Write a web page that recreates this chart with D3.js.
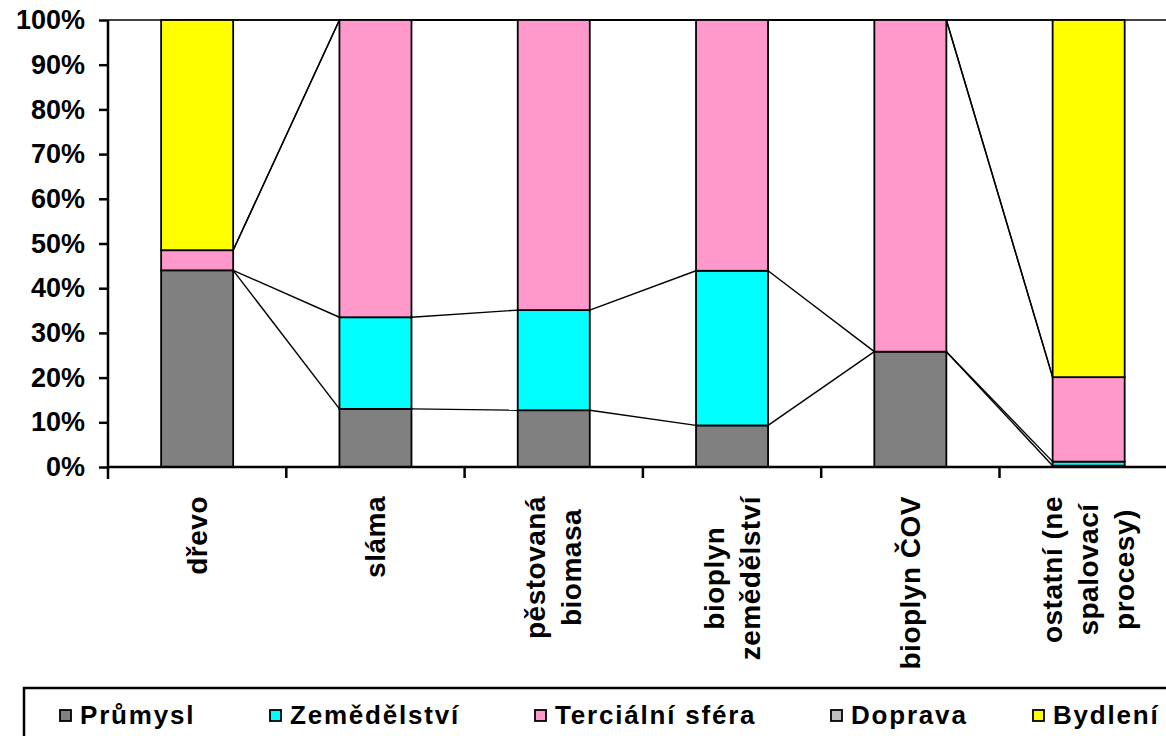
<!DOCTYPE html>
<html>
<head>
<meta charset="utf-8">
<script src="https://cdn.jsdelivr.net/npm/d3@7"></script>
<style>
  html, body { margin: 0; padding: 0; background: #fff; overflow: hidden; }
  svg { display: block; font-family: "Liberation Sans", Arial, sans-serif; }
</style>
</head>
<body>
<svg id="chart" width="1166" height="736"></svg>
<script>
// ---- data ----
const categories = ["dřevo", "sláma", "pěstovaná biomasa", "bioplyn zemědělství", "bioplyn ČOV", "ostatní (ne spalovací procesy)"];
const categoryLines = [["dřevo"], ["sláma"], ["pěstovaná", "biomasa"], ["bioplyn", "zemědělství"], ["bioplyn ČOV"], ["ostatní (ne", "spalovací", "procesy)"]];
const seriesNames = ["Průmysl", "Zemědělství", "Terciální sféra", "Doprava", "Bydlení"];
const prumysl     = [44.0, 13.0, 12.7, 9.3, 25.8, 0.3];
const zemedelstvi = [0.0, 20.5, 22.4, 34.6, 0.0, 0.9];
const tercialni   = [4.5, 66.5, 64.9, 56.1, 74.2, 18.9];
const doprava     = [0.0, 0.0, 0.0, 0.0, 0.0, 0.0];
const bydleni     = [51.5, 0.0, 0.0, 0.0, 0.0, 79.9];
const yTicks = [0, 10, 20, 30, 40, 50, 60, 70, 80, 90, 100];
const seriesColors = ["#808080", "#00FFFF", "#FF99CC", "#C0C0C0", "#FFFF00"];

(function () {
// ---- layout ----
const svg = d3.select("#chart");
const plotLeft = 108, plotTop = 20, plotBottom = 467, step = 178.3;
const rows = categories.map((c, i) => ({
  cat: c,
  "Průmysl": prumysl[i], "Zemědělství": zemedelstvi[i], "Terciální sféra": tercialni[i],
  "Doprava": doprava[i], "Bydlení": bydleni[i]
}));
const stacked = d3.stack().keys(seriesNames)(rows);

const x = d3.scaleBand().domain(categories)
  .range([plotLeft, plotLeft + step * categories.length])
  .paddingInner(0.596).paddingOuter(0.298);
const y = d3.scaleLinear().domain([0, 100]).range([plotBottom, plotTop]);
const color = d3.scaleOrdinal().domain(seriesNames).range(seriesColors);

// top border line at 100%
svg.append("line").attr("x1", plotLeft).attr("x2", 1166).attr("y1", y(100)).attr("y2", y(100))
  .attr("stroke", "#444").attr("stroke-width", 2);

// series lines
const lineG = svg.append("g");
stacked.forEach(s => {
  for (let i = 0; i < categories.length - 1; i++) {
    lineG.append("line")
      .attr("x1", x(categories[i]) + x.bandwidth()).attr("y1", y(s[i][1]))
      .attr("x2", x(categories[i + 1])).attr("y2", y(s[i + 1][1]))
      .attr("stroke", "#000").attr("stroke-width", 1.4);
  }
});

// bars
svg.append("g").selectAll("g").data(stacked).join("g")
  .attr("fill", d => color(d.key))
  .selectAll("rect").data(d => d).join("rect")
  .attr("x", d => x(d.data.cat))
  .attr("y", d => y(d[1]))
  .attr("width", x.bandwidth())
  .attr("height", d => y(d[0]) - y(d[1]))
  .attr("stroke", "#000").attr("stroke-width", 1.8);

// y axis
const yAxis = svg.append("g").attr("transform", `translate(${plotLeft},0)`)
  .call(d3.axisLeft(y).tickValues(yTicks).tickSize(9).tickPadding(14).tickFormat(d => d + "%"));
yAxis.select(".domain").attr("stroke", "#000").attr("stroke-width", 2.5).attr("d", `M0,${plotTop}V${plotBottom + 12}`);
yAxis.selectAll(".tick line").attr("stroke", "#000").attr("stroke-width", 2.5);
yAxis.selectAll(".tick text").attr("font-size", 27).attr("font-weight", "bold")
  .attr("font-family", "Liberation Sans, Arial, sans-serif").attr("fill", "#000");

// x axis
svg.append("line").attr("x1", plotLeft).attr("x2", 1166).attr("y1", plotBottom).attr("y2", plotBottom)
  .attr("stroke", "#000").attr("stroke-width", 2.5);
const boundaries = d3.range(1, categories.length).map(i => plotLeft + step * i);
svg.append("g").selectAll("line").data(boundaries).join("line")
  .attr("x1", d => d).attr("x2", d => d).attr("y1", plotBottom).attr("y2", plotBottom + 11)
  .attr("stroke", "#000").attr("stroke-width", 2.5);

// category labels (rotated, top-anchored block, lines centered)
const labelTop = 496, lineGap = 36;
categoryLines.forEach((lines, i) => {
  const cx = x(categories[i]) + x.bandwidth() / 2;
  const g = svg.append("g");
  const texts = lines.map(t => g.append("text").text(t)
    .attr("font-size", 28).attr("font-weight", "bold").attr("letter-spacing", 0.5)
    .attr("text-anchor", "middle").attr("dominant-baseline", "central").attr("fill", "#000"));
  const maxLen = d3.max(texts, t => t.node().getComputedTextLength());
  const cy = labelTop + maxLen / 2;
  texts.forEach((t, j) => {
    const lx = cx + (j - (lines.length - 1) / 2) * lineGap;
    t.attr("transform", `translate(${lx},${cy}) rotate(-90)`);
  });
});

// legend
svg.append("rect").attr("x", 24).attr("y", 688).attr("width", 1160).attr("height", 80)
  .attr("fill", "#fff").attr("stroke", "#000").attr("stroke-width", 2.5);
const legendX = [60, 270, 535, 831, 1033];
seriesNames.forEach((name, i) => {
  const sx = legendX[i];
  svg.append("rect").attr("x", sx).attr("y", 710).attr("width", 11).attr("height", 11)
    .attr("fill", color(name)).attr("stroke", "#000").attr("stroke-width", 1.8);
  svg.append("text").attr("x", sx + 20).attr("y", 724).text(name)
    .attr("font-size", 26).attr("font-weight", "bold").attr("letter-spacing", 1.8).attr("fill", "#000");
});
})();
</script>
</body>
</html>
